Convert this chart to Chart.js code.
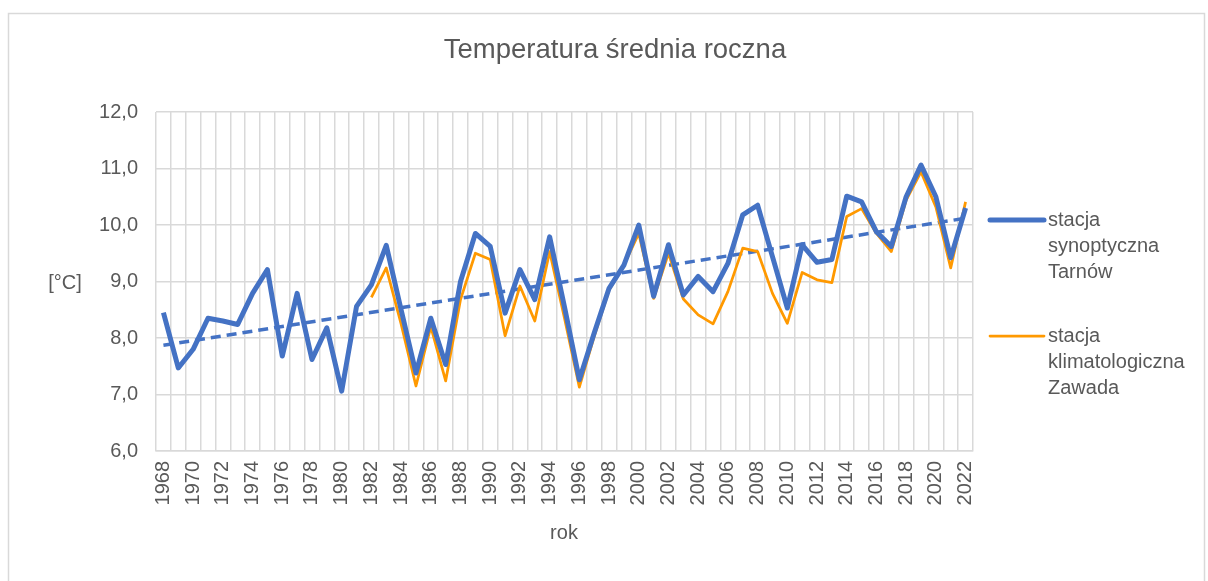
<!DOCTYPE html>
<html>
<head>
<meta charset="utf-8">
<script src="https://cdn.jsdelivr.net/npm/chart.js@4/dist/chart.umd.min.js"></script>
<style>
  body { margin: 0; background: #fff; }
</style>
</head>
<body>
<canvas id="tempChart" width="1208" height="581"></canvas>
<script>
// dane: lata i srednie roczne temperatury
var years = ['1968','1969','1970','1971','1972','1973','1974','1975','1976','1977',
  '1978','1979','1980','1981','1982','1983','1984','1985','1986','1987',
  '1988','1989','1990','1991','1992','1993','1994','1995','1996','1997',
  '1998','1999','2000','2001','2002','2003','2004','2005','2006','2007',
  '2008','2009','2010','2011','2012','2013','2014','2015','2016','2017',
  '2018','2019','2020','2021','2022'];

var tarnow = [8.45, 7.47, 7.80, 8.35, 8.30, 8.24, 8.79, 9.21, 7.68, 8.79,
  7.62, 8.18, 7.06, 8.56, 8.94, 9.64, 8.50, 7.38, 8.35, 7.53,
  9.00, 9.85, 9.62, 8.44, 9.21, 8.68, 9.79, 8.55, 7.26, 8.09,
  8.88, 9.29, 10.00, 8.74, 9.65, 8.76, 9.09, 8.82, 9.32, 10.18,
  10.35, 9.44, 8.53, 9.65, 9.34, 9.39, 10.51, 10.41, 9.88, 9.62,
  10.50, 11.06, 10.50, 9.42, 10.30];

var zawada = [null, null, null, null, null, null, null, null, null, null,
  null, null, null, null, 8.72, 9.24, 8.25, 7.15, 8.20, 7.24,
  8.68, 9.50, 9.39, 8.04, 8.92, 8.30, 9.53, 8.35, 7.13, 8.03,
  8.85, 9.29, 9.85, 8.70, 9.50, 8.69, 8.41, 8.25, 8.82, 9.59,
  9.53, 8.79, 8.26, 9.16, 9.03, 8.98, 10.15, 10.29, 9.85, 9.53,
  10.44, 10.94, 10.32, 9.24, 10.41];

// linia trendu (odczytane konce)
var trend = [7.87, null, null, null, null, null, null, null, null, null,
  null, null, null, null, null, null, null, null, null, null,
  null, null, null, null, null, null, null, null, null, null,
  null, null, null, null, null, null, null, null, null, null,
  null, null, null, null, null, null, null, null, null, null,
  null, null, null, null, 10.12];

var seriesNames = ['stacja synoptyczna Tarnów', 'stacja klimatologiczna Zawada'];
var yTicks = [6, 7, 8, 9, 10, 11, 12];

var txtColor = '#595959';
var fontName = '"Liberation Sans", Arial, sans-serif';

var decorPlugin = {
  id: 'decor',
  beforeDraw: function(chart) {
    var c = chart.ctx;
    c.save();
    c.fillStyle = '#fff';
    c.fillRect(0, 0, chart.width, chart.height);
    c.strokeStyle = '#d9d9d9';
    c.lineWidth = 1.5;
    c.strokeRect(8.5, 13.5, 1196, 600);
    c.restore();
  },
  afterDraw: function(chart) {
    var c = chart.ctx;
    c.save();
    c.fillStyle = txtColor;
    c.textBaseline = 'middle';
    c.textAlign = 'center';
    c.font = '27.5px ' + fontName;
    c.fillText('Temperatura średnia roczna', 615, 50);
    c.font = '20px ' + fontName;
    c.fillText('rok', 564, 533);
    c.fillText('[°C]', 65, 283);

    // legenda
    var ds = chart.data.datasets;
    var tops = [220, 336];
    for (var i = 0; i < 2; i++) {
      c.strokeStyle = ds[i].borderColor;
      c.lineWidth = ds[i].borderWidth;
      c.lineCap = 'round';
      c.beginPath();
      c.moveTo(990, tops[i]);
      c.lineTo(1044, tops[i]);
      c.stroke();
      c.textAlign = 'left';
      c.font = '20px ' + fontName;
      var lines = ds[i].label.split(' ');
      for (var j = 0; j < lines.length; j++) {
        c.fillText(lines[j], 1048, tops[i] + j * 26);
      }
    }
    c.restore();
  }
};

var ctx = document.getElementById('tempChart').getContext('2d');
var chart = new Chart(ctx, {
  type: 'line',
  data: {
    labels: years,
    datasets: [{
      label: seriesNames[0],
      data: tarnow,
      borderColor: '#4472C4',
      borderWidth: 5,
      pointRadius: 0,
      tension: 0,
      borderJoinStyle: 'round'
    }, {
      label: seriesNames[1],
      data: zawada,
      borderColor: '#FF9900',
      borderWidth: 2.75,
      pointRadius: 0,
      tension: 0,
      borderJoinStyle: 'round'
    }, {
      label: 'trend',
      data: trend,
      borderColor: '#4472C4',
      borderWidth: 3.5,
      borderDash: [10, 6],
      pointRadius: 0,
      spanGaps: true
    }]
  },
  options: {
    responsive: false,
    animation: false,
    layout: { padding: { top: 112, right: 235, left: 0, bottom: 0 } },
    plugins: {
      legend: { display: false },
      title: { display: false },
      tooltip: { enabled: false }
    },
    scales: {
      x: {
        offset: true,
        grid: { offset: true, color: '#d9d9d9', lineWidth: 1.5, drawTicks: false },
        border: { color: '#d9d9d9', width: 1.5 },
        ticks: {
          autoSkip: false,
          maxRotation: 90,
          minRotation: 90,
          padding: 10,
          color: txtColor,
          font: { family: fontName, size: 20 },
          callback: function(val, idx) {
            return idx % 2 === 0 ? years[idx] : '';
          }
        },
        afterFit: function(scale) { scale.height = 130; }
      },
      y: {
        min: yTicks[0],
        max: yTicks[yTicks.length - 1],
        grid: { color: '#d9d9d9', lineWidth: 1.5, drawTicks: false },
        border: { display: false },
        ticks: {
          stepSize: 1,
          padding: 18,
          color: txtColor,
          font: { family: fontName, size: 20 },
          callback: function(v) { return v.toFixed(1).replace('.', ','); }
        },
        afterFit: function(scale) { scale.width = 156; }
      }
    }
  },
  plugins: [decorPlugin]
});
</script>
</body>
</html>
